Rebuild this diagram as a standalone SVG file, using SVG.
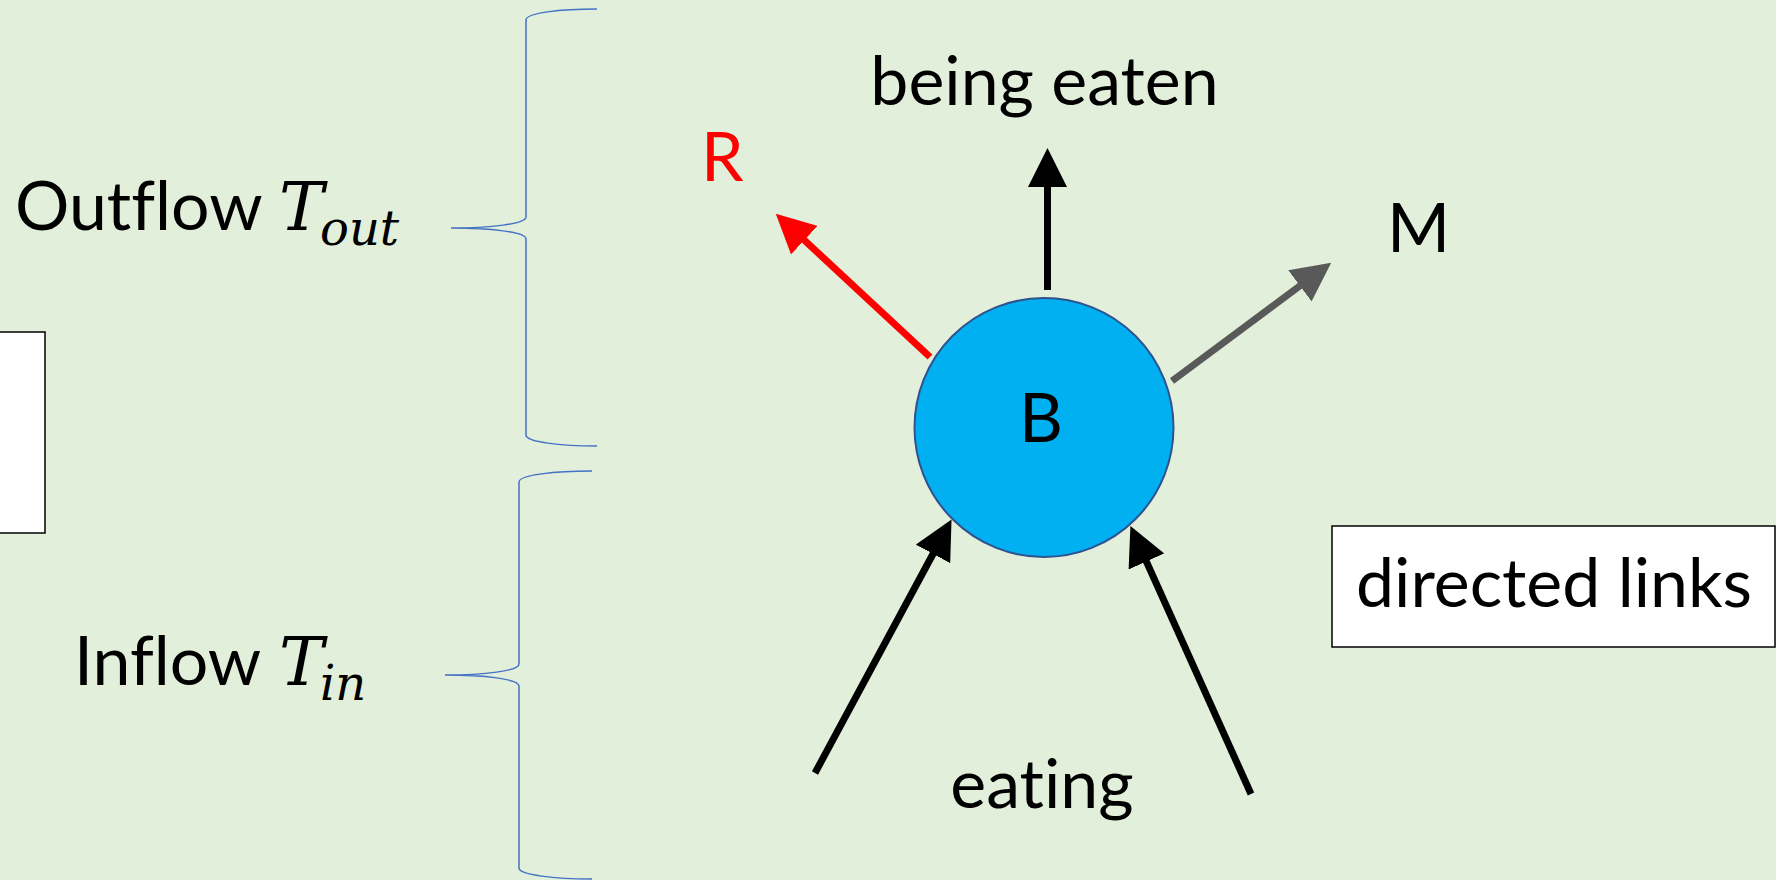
<svg xmlns="http://www.w3.org/2000/svg" width="1776" height="880" viewBox="0 0 1776 880">
<defs>
<style>
.t{font-family:Lato,"Open Sans","Liberation Sans",sans-serif;font-size:68px;fill:#000;font-variant-ligatures:none;font-feature-settings:"liga" 0,"clig" 0}
.m{font-family:"DejaVu Serif","Liberation Serif",serif;font-style:italic;fill:#000}
.brace{fill:none;stroke:#4472C4;stroke-width:1.5}
.box{fill:#fff;stroke:#000;stroke-width:1.5}
.ln{fill:none;stroke-width:7;stroke-linecap:butt}
</style>
<marker id="hk" viewBox="0 0 39 39" refX="1" refY="19.5" markerWidth="39" markerHeight="39" markerUnits="userSpaceOnUse" orient="auto"><path d="M0,0 L39,19.5 L0,39 z" fill="#000"/></marker>
<marker id="hr" viewBox="0 0 39 39" refX="1" refY="19.5" markerWidth="39" markerHeight="39" markerUnits="userSpaceOnUse" orient="auto"><path d="M0,0 L39,19.5 L0,39 z" fill="#FF0000"/></marker>
<marker id="hg" viewBox="0 0 39 39" refX="1" refY="19.5" markerWidth="39" markerHeight="39" markerUnits="userSpaceOnUse" orient="auto"><path d="M0,0 L39,19.5 L0,39 z" fill="#595959"/></marker>
</defs>
<rect x="0" y="0" width="1776" height="880" fill="#E2EFDA"/>

<g id="leftbox"><rect class="box" x="-2" y="332" width="47" height="201"/></g>

<g id="outflow">
<text class="t" x="15" y="230">Outflow</text>
<text class="m" x="279" y="230" font-size="67">T</text>
<text class="m" x="320" y="245" font-size="48">out</text>
<path class="brace" d="M597,9 C560,9 526,13 526,20 L526,217 C526,224 490,228 451,228 C490,228 526,232 526,239 L526,435 C526,442 560,446 597,446"/>
</g>

<g id="inflow">
<text class="t" x="74" y="685">Inflow</text>
<text class="m" x="279" y="685" font-size="67">T</text>
<text class="m" x="320" y="700" font-size="48">in</text>
<path class="brace" d="M592,471 C555,471 519,475 519,482 L519,664 C519,671 484,675 445,675 C484,675 519,679 519,686 L519,868 C519,875 555,879 592,879"/>
</g>

<g id="connectors">
<line class="ln" x1="930" y1="357" x2="803.6" y2="239.5" stroke="#FF0000" marker-end="url(#hr)"/>
<line class="ln" x1="1047.5" y1="290" x2="1047.5" y2="186" stroke="#000" marker-end="url(#hk)"/>
<line class="ln" x1="1172" y1="381" x2="1300.7" y2="285.3" stroke="#595959" marker-end="url(#hg)"/>
<line class="ln" x1="815" y1="773" x2="933.5" y2="553" stroke="#000" marker-end="url(#hk)"/>
<line class="ln" x1="1251" y1="794" x2="1146" y2="560.6" stroke="#000" marker-end="url(#hk)"/>
</g>

<g id="nodeB">
<circle cx="1044" cy="427.5" r="129.5" fill="#00B0F0" stroke="#2F528F" stroke-width="2"/>
<text class="t" x="1041" y="442" text-anchor="middle">B</text>
</g>

<g id="beingEaten"><text class="t" x="1044.5" y="105" text-anchor="middle">being eaten</text></g>
<g id="R"><text class="t" x="701" y="181" style="fill:#FF0000">R</text></g>
<g id="M"><text class="t" x="1387" y="252">M</text></g>
<g id="eating"><text class="t" x="1042" y="808" text-anchor="middle">eating</text></g>

<g id="directedLinks">
<rect class="box" x="1332" y="526" width="443" height="121"/>
<text class="t" x="1554" y="607" text-anchor="middle">directed links</text>
</g>
</svg>
